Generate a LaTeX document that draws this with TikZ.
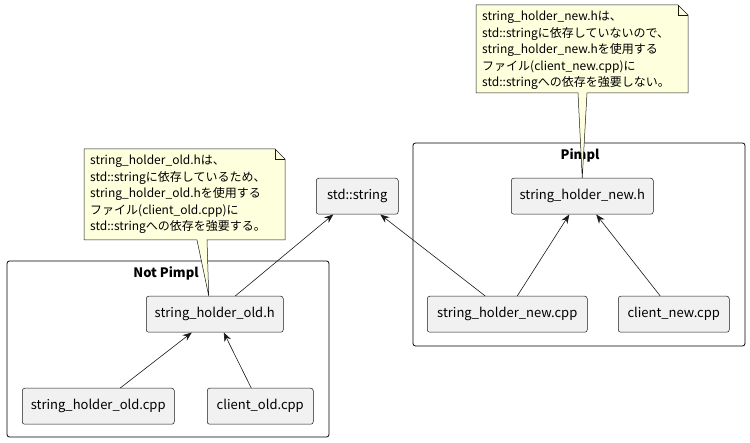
\documentclass[tikz,border=0pt]{standalone}
\usepackage{fontspec}
\setmainfont{Noto Sans CJK JP}
\usetikzlibrary{arrows.meta,calc}
\definecolor{nodefill}{HTML}{F1F1F1}
\definecolor{edgecol}{HTML}{181818}
\definecolor{notefill}{HTML}{FEFFDD}
\tikzset{
  comp/.style={draw=edgecol, line width=0.5pt, fill=nodefill, rounded corners=2.5pt,
    minimum height=36pt, inner sep=0pt, font=\fontsize{13}{15}\selectfont, anchor=north west},
  frametitle/.style={font=\fontsize{13}{15}\selectfont\bfseries, inner sep=0pt},
  framebox/.style={draw=black, line width=0.8pt, rounded corners=2.5pt},
  dep/.style={draw=edgecol, line width=0.6pt, -{Stealth[length=9pt,width=7pt,inset=3pt]}},
  notetext/.style={font=\fontsize{12}{16.5}\selectfont, align=left, inner sep=0pt, anchor=north west},
  noteshape/.style={draw=edgecol, line width=0.5pt, fill=notefill},
}
\begin{document}
\begin{tikzpicture}[x=1pt,y=-1pt]
\useasboundingbox (0,0) rectangle (750,443);
% frames
\draw[framebox] (413,143) rectangle (745,346);
\node[frametitle] (tpimpl) at (580,155) {Pimpl};
\draw[framebox] (7,261) rectangle (329,437);
\node[frametitle] (tnotpimpl) at (166,273) {Not Pimpl};
% components
\node[comp, minimum width=82pt] (stdstr) at (316,178) {std::string};
\node[comp, minimum width=142pt] (newh) at (511,178) {string\_holder\_new.h};
\node[comp, minimum width=160pt] (newcpp) at (427,296) {string\_holder\_new.cpp};
\node[comp, minimum width=111pt] (clientnew) at (618,296) {client\_new.cpp};
\node[comp, minimum width=137pt] (oldh) at (146,296) {string\_holder\_old.h};
\node[comp, minimum width=152pt] (oldcpp) at (22,388) {string\_holder\_old.cpp};
\node[comp, minimum width=106pt] (clientold) at (207,388) {client\_old.cpp};
% edges
\draw[dep] ([xshift=20.5pt]oldh.north) -- ([xshift=-24pt]stdstr.south);
\draw[dep] ([xshift=-22pt]newcpp.north) -- ([xshift=23pt]stdstr.south);
\draw[dep] ([xshift=10pt]newcpp.north) -- ([xshift=-13pt]newh.south);
\draw[dep] ([xshift=-13.5pt]clientnew.north) -- ([xshift=14pt]newh.south);
\draw[dep] ([xshift=22pt]oldcpp.north) -- ([xshift=-23pt]oldh.south);
\draw[dep] ([xshift=-9pt]clientold.north) -- ([xshift=9pt]oldh.south);
% note new
\coordinate (ntip) at ([xshift=0pt]newh.north);
\draw[noteshape] (476,5) -- (678,5) -- (688,15) -- (688,93) -- (587,93) -- (ntip) -- (578,93) -- (476,93) -- cycle;
\draw[edgecol, line width=0.5pt] (678,5) -- (678,15) -- (688,15);
\node[notetext] (notenew) at (482,11) {string\_holder\_new.hは、\\std::stringに依存していないので、\\string\_holder\_new.hを使用する\\ファイル(client\_new.cpp)に\\std::stringへの依存を強要しない。};
% note old
\coordinate (otip) at ([xshift=-6pt]oldh.north);
\draw[noteshape] (84,149) -- (275,149) -- (285,159) -- (285,240) -- (207,240) -- (otip) -- (197,240) -- (84,240) -- cycle;
\draw[edgecol, line width=0.5pt] (275,149) -- (275,159) -- (285,159);
\node[notetext] (noteold) at (90,155) {string\_holder\_old.hは、\\std::stringに依存しているため、\\string\_holder\_old.hを使用する\\ファイル(client\_old.cpp)に\\std::stringへの依存を強要する。};
\end{tikzpicture}
\end{document}
